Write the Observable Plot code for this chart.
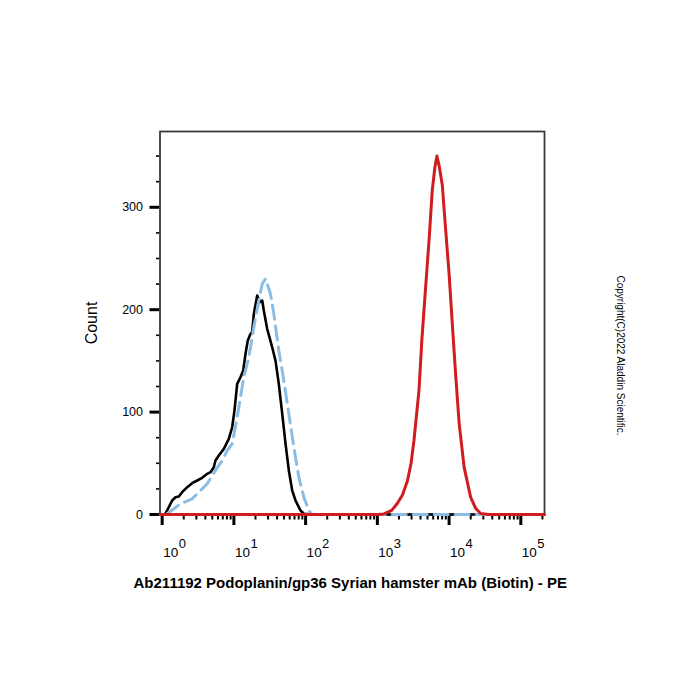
<!DOCTYPE html>
<html>
<head>
<meta charset="utf-8">
<script src="https://cdn.jsdelivr.net/npm/d3@7"></script>
<script src="https://cdn.jsdelivr.net/npm/@observablehq/plot@0.6"></script>
<style>
  html, body { margin: 0; padding: 0; background: #fff; }
  #chart { width: 700px; height: 700px; }
</style>
</head>
<body>
<div id="chart"></div>
<script>
// ---- Data (x stored as log10 of fluorescence intensity, y as count) ----
const blackLogX = [0.02, 0.046, 0.092, 0.139, 0.186, 0.232, 0.279, 0.349, 0.418, 0.488, 0.558, 0.628, 0.674, 0.72, 0.743, 0.79, 0.86, 0.929, 0.976, 1.008, 1.046, 1.092, 1.13, 1.162, 1.194, 1.232, 1.255, 1.278, 1.325, 1.361, 1.395, 1.417, 1.464, 1.534, 1.58, 1.626, 1.674, 1.72, 1.766, 1.813, 1.859, 1.929, 1.975, 2.1, 5.33];
const blackCount = [0, 0.7, 7.1, 13.7, 16.9, 17.6, 21.8, 26.7, 30.6, 33.2, 35.8, 39.7, 41.3, 46.2, 52.7, 57.6, 64.1, 73.9, 85.2, 101.5, 127.6, 134, 140.6, 156.9, 169.9, 176.4, 178, 195.9, 213.8, 207.3, 208.9, 199.2, 181.3, 163.3, 150.3, 127.6, 98.3, 69, 43, 23.4, 13.7, 3.9, 0.7, 0, 0];

const blueLogX = [0.07, 0.255, 0.418, 0.534, 0.628, 0.743, 0.837, 0.907, 0.976, 1.046, 1.092, 1.138, 1.208, 1.278, 1.347, 1.395, 1.441, 1.51, 1.557, 1.626, 1.696, 1.766, 1.836, 1.905, 1.975, 2.045, 2.09, 5.33];
const blueCount = [0.7, 10.4, 15.3, 23.4, 30, 43, 52.7, 62.5, 69, 95, 114.5, 134, 153.6, 182.9, 208.9, 225.2, 230.1, 215.5, 195.9, 160.1, 130.8, 98.3, 65.7, 36.4, 16.9, 3.9, 0, 0];

const redLogX = [-0.03, 3.0, 3.09, 3.2, 3.28, 3.35, 3.42, 3.47, 3.51, 3.58, 3.62, 3.67, 3.72, 3.765, 3.80, 3.83, 3.86, 3.905, 3.95, 4.0, 4.045, 4.09, 4.14, 4.21, 4.30, 4.37, 4.44, 4.55, 5.33];
const redCount = [0, 0, 0.5, 4, 11, 19, 33, 50, 72, 121, 170, 219, 267, 316, 338, 350, 341, 322, 280, 235, 186, 138, 89, 46, 17, 6, 1, 0, 0];

// ---- Ticks and labels ----
const yMajorTicks = [0, 100, 200, 300];
const yMinorTicks = [25, 50, 75, 125, 150, 175, 225, 250, 275, 325, 350];
const xMajorExponents = [0, 1, 2, 3, 4, 5];
const xMinorMultipliers = [2, 3, 4, 5, 6, 7, 8, 9];
const xMinorDecades = [1, 10, 100, 1000, 10000];
const xExtraMinor = [200000];

const xTitle = "Ab211192 Podoplanin/gp36 Syrian hamster mAb (Biotin) - PE";
const yTitle = "Count";
const copyright = "Copyright(C)2022 Aladdin Scientific.";

// ---- Build tables ----
const toRows = (lx, c) => lx.map((v, i) => ({x: Math.pow(10, v), y: c[i]}));
const blackData = toRows(blackLogX, blackCount);
const blueData = toRows(blueLogX, blueCount);
const redData = toRows(redLogX, redCount);
const xMajorTicks = xMajorExponents.map(e => Math.pow(10, e));
const xMinorTicks = xMinorDecades.flatMap(d => xMinorMultipliers.map(m => m * d)).concat(xExtraMinor);

const empty = () => "";

const chart = Plot.plot({
  width: 700,
  height: 700,
  marginLeft: 159.5,
  marginRight: 156,
  marginTop: 131,
  marginBottom: 186,
  style: {fontFamily: "'Liberation Sans', Arial, sans-serif", color: "#000", background: "#fff"},
  x: {type: "log", domain: [Math.pow(10, -0.03), Math.pow(10, 5.33)]},
  y: {domain: [0, 374]},
  marks: [
    // axes
    Plot.axisY(yMinorTicks, {tickSize: 3.5, strokeWidth: 1.6, tickFormat: empty, label: null}),
    Plot.axisY(yMajorTicks, {tickSize: 10, strokeWidth: 3, tickPadding: 7, fontSize: 12.5, label: null}),
    Plot.axisX(xMinorTicks, {tickSize: 5.5, strokeWidth: 2, tickFormat: empty, label: null}),
    Plot.axisX(xMajorTicks, {tickSize: 11, strokeWidth: 3, tickFormat: empty, label: null}),
    Plot.text(xMajorExponents, {x: e => Math.pow(10, e), text: () => "10", frameAnchor: "bottom", lineAnchor: "middle", dy: 38.5, dx: 1, textAnchor: "start", fontSize: 13.5}),
    Plot.text(xMajorExponents, {x: e => Math.pow(10, e), text: e => String(e), frameAnchor: "bottom", lineAnchor: "middle", dy: 29.5, dx: 16.5, textAnchor: "start", fontSize: 13}),
    Plot.frame({stroke: "#3a3a3a", strokeWidth: 1.8}),
    // curves
    Plot.line(blackData, {x: "x", y: "y", stroke: "#000", strokeWidth: 2.6}),
    Plot.line(blueData, {x: "x", y: "y", stroke: "#8bbde4", strokeWidth: 3, strokeDasharray: "14,7"}),
    Plot.line(redData, {x: "x", y: "y", stroke: "#d01c1f", strokeWidth: 3}),
    // titles
    Plot.text([yTitle], {frameAnchor: "left", textAnchor: "middle", lineAnchor: "middle", dx: -68.5, rotate: -90, fontSize: 16}),
    Plot.text([xTitle], {frameAnchor: "bottom", textAnchor: "middle", lineAnchor: "middle", dy: 69, dx: -2, fontSize: 15, fontWeight: "bold"}),
    Plot.text([copyright], {frameAnchor: "right", textAnchor: "middle", lineAnchor: "middle", dx: 76, dy: 32.5, rotate: 90, fontSize: 10})
  ]
});
document.getElementById("chart").appendChild(chart);
</script>
</body>
</html>
